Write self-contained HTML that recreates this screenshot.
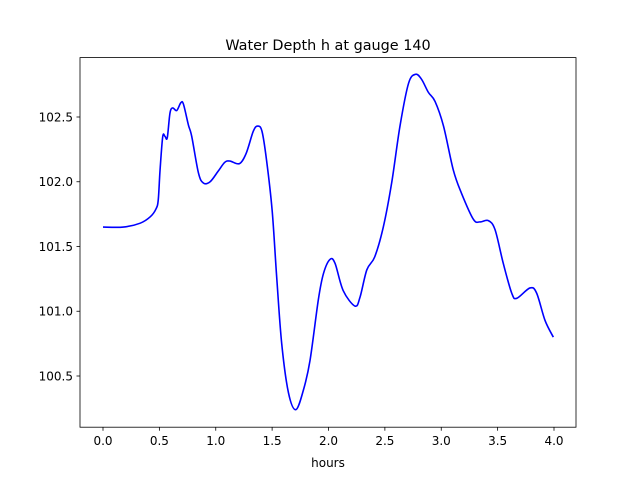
<!DOCTYPE html>
<html><head><meta charset="utf-8"><style>
body{margin:0;background:#fff;font-family:"Liberation Sans","DejaVu Sans",sans-serif}
text{font-family:"DejaVu Sans","Liberation Sans",sans-serif}
</style></head><body>
<svg id="chart" width="640" height="480" xmlns="http://www.w3.org/2000/svg">
<rect width="640" height="480" fill="#fff"/>
<text x="328" y="50" font-size="14.4" text-anchor="middle">Water Depth h at gauge 140</text>
<g id="ticks"></g>
<path id="line" fill="none" stroke="#0000ff" stroke-width="1.6" stroke-linejoin="round"/>
<rect x="80" y="57.6" width="496" height="369.6" fill="none" stroke="#000" stroke-width="0.8"/>
<text x="328" y="467" font-size="12" text-anchor="middle">hours</text>
</svg>
<script>
const hours=[0,0.18,0.33,0.42,0.47,0.49,0.506,0.53,0.55,0.57,0.594,0.618,0.654,0.69,0.713,0.757,0.787,0.846,0.89,0.95,1.02,1.08,1.126,1.21,1.27,1.333,1.372,1.41,1.45,1.5,1.54,1.585,1.645,1.71,1.777,1.836,1.91,1.955,2.013,2.058,2.13,2.235,2.28,2.34,2.41,2.486,2.56,2.634,2.71,2.773,2.826,2.886,2.945,3.02,3.107,3.18,3.285,3.344,3.417,3.477,3.55,3.625,3.67,3.787,3.846,3.92,3.994];
const depth=[101.65,101.65,101.68,101.73,101.79,101.86,102.09,102.35,102.35,102.34,102.53,102.57,102.55,102.61,102.6,102.44,102.35,102.07,101.99,102.0,102.08,102.15,102.16,102.14,102.22,102.39,102.43,102.39,102.17,101.78,101.27,100.75,100.37,100.24,100.39,100.62,101.09,101.29,101.4,101.37,101.16,101.04,101.11,101.32,101.42,101.65,101.99,102.43,102.76,102.83,102.79,102.69,102.62,102.43,102.09,101.91,101.71,101.69,101.7,101.63,101.37,101.14,101.1,101.18,101.14,100.93,100.8];
const xTicks=["0.0","0.5","1.0","1.5","2.0","2.5","3.0","3.5","4.0"];
const yTicks=["100.5","101.0","101.5","102.0","102.5"];
const xs=h=>103+h*112.75;
const ys=v=>117-(v-102.5)*129.5;
const NS="http://www.w3.org/2000/svg";
const g=document.getElementById('ticks');
function mk(tag,attrs,txt){const e=document.createElementNS(NS,tag);for(const k in attrs)e.setAttribute(k,attrs[k]);if(txt)e.textContent=txt;g.appendChild(e);return e;}
xTicks.forEach(t=>{const x=xs(parseFloat(t));
const l=mk('line',{x1:x,x2:x,y1:427.2,y2:430.7,stroke:'#000','stroke-width':0.8});


const tx=mk('text',{x:x,y:445,'font-size':12,'text-anchor':'middle'},t);

});
yTicks.forEach(t=>{const y=ys(parseFloat(t));
const l=mk('line',{x1:76.5,x2:80,y1:y,y2:y,stroke:'#000','stroke-width':0.8});


const tx=mk('text',{x:73,y:y+4.3,'font-size':12,'text-anchor':'end'},t);

});
const P=hours.map((h,i)=>[xs(h),ys(depth[i])]);
let d='M'+P[0][0]+','+P[0][1];
for(let i=0;i<P.length-1;i++){const p0=P[Math.max(0,i-1)],p1=P[i],p2=P[i+1],p3=P[Math.min(P.length-1,i+2)];
const c1=[p1[0]+(p2[0]-p0[0])/6,p1[1]+(p2[1]-p0[1])/6],c2=[p2[0]-(p3[0]-p1[0])/6,p2[1]-(p3[1]-p1[1])/6];
d+=' C'+c1+' '+c2+' '+p2;}
document.getElementById('line').setAttribute('d',d);
</script>
</body></html>
